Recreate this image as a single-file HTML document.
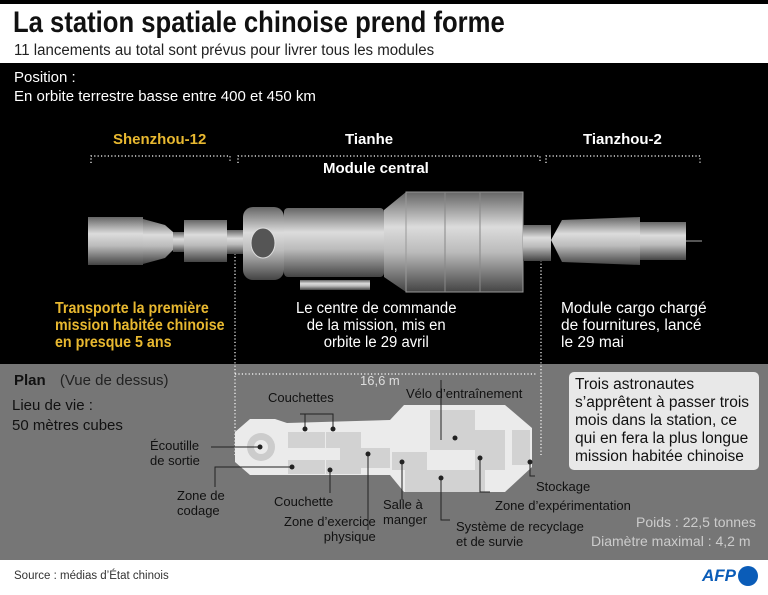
<!DOCTYPE html>
<html><head><meta charset="utf-8"><style>
body{margin:0;width:768px;height:595px;overflow:hidden;background:#fff;font-family:"Liberation Sans Narrow","Liberation Sans",sans-serif}
.a{position:absolute;white-space:nowrap}
</style></head><body>
<div class="a" style="left:0;top:0;width:768px;height:4px;background:#000"></div>
<div class="a" style="left:13px;top:6px;font-size:30px;font-weight:bold;color:#111;transform:scaleX(.855);transform-origin:left">La station spatiale chinoise prend forme</div>
<div class="a" style="left:14px;top:42px;font-size:15.5px;color:#222;transform:scaleX(.97);transform-origin:left">11 lancements au total sont prévus pour livrer tous les modules</div>
<div class="a" style="left:0;top:63px;width:768px;height:301px;background:#000"></div>
<div class="a" style="left:0;top:364px;width:768px;height:196px;background:#767676"></div>
<svg class="a" style="left:0;top:0" width="768" height="595">
<defs>
<linearGradient id="g" x1="0" y1="0" x2="0" y2="1"><stop offset="0" stop-color="#666"/><stop offset=".35" stop-color="#dcdcdc"/><stop offset=".6" stop-color="#bbb"/><stop offset="1" stop-color="#444"/></linearGradient>
</defs>
<g stroke="#fff" stroke-width="1.2" stroke-dasharray="1.2 2.2" fill="none">
<path d="M91 163V156H230V163M238 163V156H540V163M546 163V156H700V163"/>
<path d="M235 250V455M541 250V455M235 374H537"/>
</g>
<rect x="88" y="217" width="55" height="48" fill="url(#g)"/>
<path d="M143 219L165 225 173 232 173 250 165 258 143 264Z" fill="url(#g)"/>
<rect x="173" y="232" width="11" height="20" fill="url(#g)"/>
<rect x="184" y="220" width="43" height="42" fill="url(#g)"/>
<rect x="227" y="230" width="16" height="24" fill="url(#g)"/>
<rect x="243" y="207" width="41" height="73" rx="10" fill="url(#g)"/>
<ellipse cx="263" cy="243" rx="12" ry="15" fill="#555" stroke="#ddd"/>
<rect x="284" y="208" width="100" height="69" rx="4" fill="url(#g)"/>
<rect x="300" y="280" width="70" height="10" fill="url(#g)"/>
<path d="M384 210L406 192 406 292 384 277Z" fill="url(#g)"/>
<rect x="406" y="192" width="117" height="100" fill="url(#g)" stroke="#999"/>
<path d="M445 192V292M480 192V292" stroke="#888"/>
<rect x="523" y="225" width="28" height="36" fill="url(#g)"/>
<path d="M551 240L562 220 640 217 640 265 562 262Z" fill="url(#g)"/>
<rect x="640" y="222" width="46" height="38" fill="url(#g)"/>
<path d="M686 241H702" stroke="#aaa"/>
<path d="M235 432L250 419 275 419 287 423 390 420 404 405 505 405 532 428 532 467 505 492 404 492 390 475 287 475 275 475 250 475 235 462Z" fill="#ebebeb"/>
<g fill="#d2d2d2"><rect x="288" y="432" width="37" height="16"/><rect x="326" y="432" width="35" height="16"/><rect x="340" y="448" width="50" height="20"/><rect x="288" y="460" width="37" height="14"/><rect x="326" y="460" width="35" height="14"/><rect x="392" y="452" width="35" height="18"/><rect x="405" y="470" width="80" height="22"/><rect x="430" y="410" width="45" height="40"/><rect x="475" y="430" width="30" height="40"/><rect x="512" y="430" width="18" height="35"/></g>
<circle cx="261" cy="447" r="14" fill="#ccc"/><circle cx="261" cy="447" r="7" fill="#ebebeb"/>
<g stroke="#222" fill="none" stroke-width="1"><path d="M305 414V429M300 414H333V429M211 447H260M215 487V467H292M368 454V530M330 470V493M402 462V500M441 440V380M441 478V520H450M480 458V492H490M530 462V476H535"/></g>
<g fill="#222"><circle cx="305" cy="429" r="2.5"/><circle cx="333" cy="429" r="2.5"/><circle cx="260" cy="447" r="2.5"/><circle cx="292" cy="467" r="2.5"/><circle cx="368" cy="454" r="2.5"/><circle cx="330" cy="470" r="2.5"/><circle cx="402" cy="462" r="2.5"/><circle cx="455" cy="438" r="2.5"/><circle cx="441" cy="478" r="2.5"/><circle cx="480" cy="458" r="2.5"/><circle cx="530" cy="462" r="2.5"/></g>
<rect x="569" y="372" width="190" height="98" rx="5" fill="#e8e8e8"/>
</svg>
<div class="a" style="left:14px;top:68px;font-size:15px;color:#fff;line-height:19px">Position :<br>En orbite terrestre basse entre 400 et 450 km</div>
<div class="a" style="left:113px;top:131px;font-size:15px;font-weight:bold;color:#e8b830">Shenzhou-12</div>
<div class="a" style="left:345px;top:131px;font-size:15px;font-weight:bold;color:#fff">Tianhe</div>
<div class="a" style="left:583px;top:131px;font-size:15px;font-weight:bold;color:#fff">Tianzhou-2</div>
<div class="a" style="left:323px;top:160px;font-size:15px;font-weight:bold;color:#fff">Module central</div>
<div class="a" style="left:55px;top:300px;font-size:15.5px;font-weight:bold;color:#e8b830;line-height:17px;transform:scaleX(.92);transform-origin:left">Transporte la première<br>mission habitée chinoise<br>en presque 5 ans</div>
<div class="a" style="left:296px;top:300px;font-size:15.5px;color:#fff;line-height:17px;text-align:center;transform:scaleX(.96);transform-origin:left">Le centre de commande<br>de la mission, mis en<br>orbite le 29 avril</div>
<div class="a" style="left:561px;top:300px;font-size:15.5px;color:#fff;line-height:17px">Module cargo chargé<br>de fournitures, lancé<br>le 29 mai</div>
<div class="a" style="left:14px;top:372px;font-size:15px;color:#111"><b>Plan</b> <span style="margin-left:10px;color:#222">(Vue de dessus)</span></div>
<div class="a" style="left:12px;top:396px;font-size:15px;color:#111;line-height:20px">Lieu de vie :<br>50 mètres cubes</div>
<div class="a" style="left:360px;top:373px;font-size:13px;color:#ddd">16,6 m</div>
<div class="a" style="left:575px;top:376px;font-size:15.5px;color:#111;line-height:18px">Trois astronautes<br>s’apprêtent à passer trois<br>mois dans la station, ce<br>qui en fera la plus longue<br>mission habitée chinoise</div>
<div class="a" style="font-size:13px;color:#111;line-height:15px;left:268px;top:390px">Couchettes</div>
<div class="a" style="font-size:13px;color:#111;line-height:15px;left:406px;top:386px">Vélo d’entraînement</div>
<div class="a" style="font-size:13px;color:#111;line-height:15px;left:150px;top:438px">Écoutille<br>de sortie</div>
<div class="a" style="font-size:13px;color:#111;line-height:15px;left:177px;top:488px">Zone de<br>codage</div>
<div class="a" style="font-size:13px;color:#111;line-height:15px;left:274px;top:494px">Couchette</div>
<div class="a" style="font-size:13px;color:#111;line-height:15px;left:284px;top:514px;text-align:right">Zone d’exercice<br>physique</div>
<div class="a" style="font-size:13px;color:#111;line-height:15px;left:383px;top:497px">Salle à<br>manger</div>
<div class="a" style="font-size:13px;color:#111;line-height:15px;left:456px;top:519px">Système de recyclage<br>et de survie</div>
<div class="a" style="font-size:13px;color:#111;line-height:15px;left:536px;top:479px">Stockage</div>
<div class="a" style="font-size:13px;color:#111;line-height:15px;left:495px;top:498px">Zone d’expérimentation</div>
<div class="a" style="font-size:14px;color:#ccc;left:636px;top:514px">Poids : 22,5 tonnes</div>
<div class="a" style="font-size:14px;color:#ccc;left:591px;top:533px">Diamètre maximal : 4,2 m</div>
<div class="a" style="left:14px;top:570px;font-size:11.5px;color:#333">Source : médias d’État chinois</div>
<div class="a" style="left:702px;top:566px;font-size:17px;font-weight:bold;font-style:italic;color:#0a5cb8">AFP</div>
<div class="a" style="left:738px;top:566px;width:20px;height:20px;border-radius:50%;background:#0a5cb8"></div>
</body></html>
